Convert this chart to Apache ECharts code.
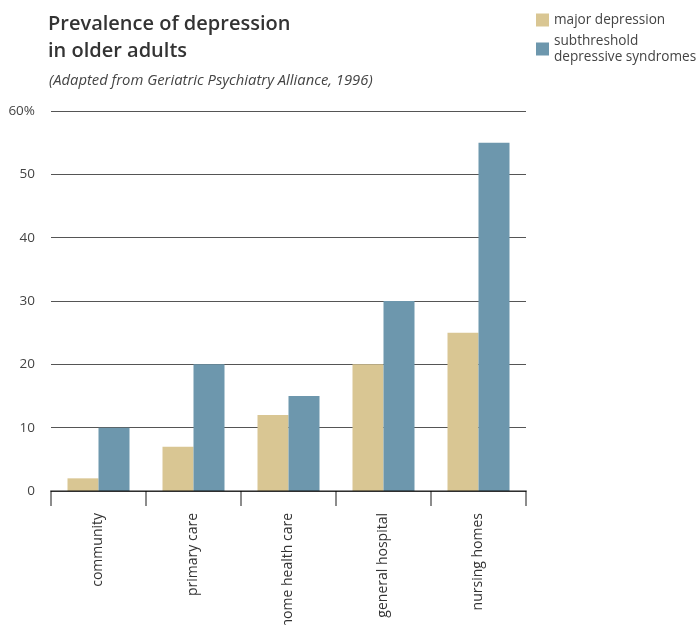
<!DOCTYPE html>
<html>
<head>
<meta charset="utf-8">
<script src="https://cdn.jsdelivr.net/npm/echarts@6/dist/echarts.min.js"></script>
<style>
html,body{margin:0;padding:0;background:#fff;}
#chart{width:699px;height:625px;}
</style>
</head>
<body>
<div id="chart"></div>
<script>
var categories = ['community', 'primary care', 'home health care', 'general hospital', 'nursing homes'];
var majorDepression = [2, 7, 12, 20, 25];
var subthreshold = [10, 20, 15, 30, 55];
var seriesNames = ['major depression', 'subthreshold depressive syndromes'];
var yTicks = [0, 10, 20, 30, 40, 50, 60];

var FONT = '"Open Sans", "Noto Sans", sans-serif';
var axisGray = 'rgba(0,0,0,0.45)';

var chart = echarts.init(document.getElementById('chart'), null, {renderer: 'canvas'});
chart.setOption({
  backgroundColor: '#fff',
  animation: false,
  title: [
    {
      text: 'Prevalence of depression\nin older adults',
      left: 43, top: 6,
      textStyle: {fontFamily: FONT, fontSize: 20, fontWeight: 600, color: '#333', lineHeight: 27}
    },
    {
      text: '(Adapted from Geriatric Psychiatry Alliance, 1996)',
      left: 44, top: 67,
      textStyle: {fontFamily: FONT, fontSize: 14.8, fontWeight: 'normal', fontStyle: 'italic', color: '#444', lineHeight: 18}
    }
  ],
  legend: [
    {
      data: [seriesNames[0]],
      left: 536, top: 12, padding: 0,
      icon: 'rect', itemWidth: 13, itemHeight: 13,
      selectedMode: false,
      textStyle: {fontFamily: FONT, fontSize: 13.6, color: '#444', lineHeight: 16}
    },
    {
      data: [seriesNames[1]],
      left: 536, top: 25, padding: 0,
      icon: 'rect', itemWidth: 13, itemHeight: 13,
      selectedMode: false,
      formatter: function (n) { return n.replace(' ', '\n'); },
      textStyle: {fontFamily: FONT, fontSize: 13.6, color: '#444', lineHeight: 16, padding: [16, 0, 0, 0]}
    }
  ],
  grid: {left: 51, right: 173, top: 111, bottom: 134, containLabel: false, outerBoundsMode: 'none'},
  xAxis: {
    type: 'category',
    data: categories,
    z: 5,
    axisLine: {show: true, lineStyle: {color: axisGray, width: 2}},
    axisTick: {show: true, length: 15, lineStyle: {color: axisGray, width: 2}},
    axisLabel: {rotate: 90, margin: 22, fontFamily: FONT, fontSize: 14, color: '#333', interval: 0}
  },
  yAxis: {
    type: 'value',
    min: yTicks[0], max: yTicks[yTicks.length - 1], interval: 10,
    axisLine: {show: false},
    axisTick: {show: false},
    splitLine: {show: true, lineStyle: {color: '#555', width: 1.2}},
    axisLabel: {
      margin: 16, fontFamily: FONT, fontSize: 13.5, color: '#444',
      formatter: function (v) { return v === yTicks[yTicks.length - 1] ? v + '%' : String(v); }
    }
  },
  series: [
    {name: seriesNames[0], type: 'bar', data: majorDepression, barWidth: 31, barGap: '0%', itemStyle: {color: '#D9C693'}},
    {name: seriesNames[1], type: 'bar', data: subthreshold, barWidth: 31, barGap: '0%', itemStyle: {color: '#6D97AD'}}
  ]
});
</script>
</body>
</html>
